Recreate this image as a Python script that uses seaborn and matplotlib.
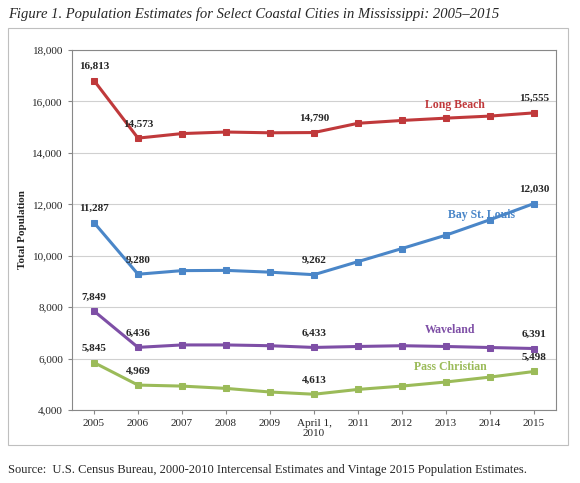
import pandas as pd
import seaborn as sns
import matplotlib.pyplot as plt
from matplotlib.patches import Rectangle

years = ['2005', '2006', '2007', '2008', '2009', 'April 1,\n2010', '2011', '2012', '2013', '2014', '2015']
long_beach = [16813, 14573, 14750, 14810, 14780, 14790, 15150, 15260, 15350, 15430, 15555]
bay_st_louis = [11287, 9280, 9420, 9430, 9360, 9262, 9770, 10280, 10800, 11400, 12030]
waveland = [7849, 6436, 6530, 6530, 6500, 6433, 6470, 6500, 6470, 6430, 6391]
pass_christian = [5845, 4969, 4930, 4840, 4700, 4613, 4800, 4930, 5090, 5280, 5498]

series = {
    'Long Beach': (long_beach, '#C0393B'),
    'Bay St. Louis': (bay_st_louis, '#4A86C8'),
    'Waveland': (waveland, '#7E4FA6'),
    'Pass Christian': (pass_christian, '#9BBB59'),
}
name_pos = {'Long Beach': (8.2, 15870), 'Bay St. Louis': (8.8, 11600),
            'Waveland': (8.1, 7110), 'Pass Christian': (8.1, 5670)}

sns.set_style('white')
plt.rcParams['font.family'] = ['Liberation Serif', 'DejaVu Serif']

fig = plt.figure(figsize=(5.8, 4.83), dpi=100)
ax = fig.add_axes([72 / 580, 1 - 410 / 483, 484 / 580, 360 / 483])
fig.patches.append(Rectangle((8 / 580, 1 - 445 / 483), 560 / 580, 417 / 483,
                             transform=fig.transFigure, fill=False, ec='#BFBFBF', lw=0.8))

x = list(range(len(years)))
for name, (vals, col) in series.items():
    df = pd.DataFrame({'x': x, 'y': vals})
    sns.lineplot(data=df, x='x', y='y', ax=ax, color=col, lw=2.2,
                 marker='s', markersize=5, markeredgecolor=col)
    for i in (0, 1, 5, 10):
        ax.annotate(f'{vals[i]:,}', (i, vals[i]), xytext=(0, 7), textcoords='offset points',
                    ha='center', va='bottom', fontsize=8, fontweight='bold')
    px, py = name_pos[name]
    ax.text(px, py, name, color=col, ha='center', va='center',
            fontsize=8.5, fontweight='bold')

ax.set_ylim(4000, 18000)
ax.set_yticks(range(4000, 18001, 2000))
ax.set_yticklabels([f'{v:,}' for v in range(4000, 18001, 2000)], fontsize=8)
ax.set_xlim(-0.5, 10.5)
ax.set_xticks(x)
ax.set_xticklabels(years, fontsize=8)
ax.set_xlabel('')
ax.set_ylabel('Total Population', fontsize=8, fontweight='bold')
ax.yaxis.grid(True, color='#D0D0D0', lw=0.8)
for s in ax.spines.values():
    s.set_color('#888888')
    s.set_linewidth(0.8)
ax.tick_params(axis='both', length=3, color='#888888', direction='out', bottom=True, left=True)

fig.text(8 / 580, 1 - 14 / 483, 'Figure 1. Population Estimates for Select Coastal Cities in Mississippi: 2005\u20132015',
         fontsize=10.5, style='italic', va='center')
fig.text(8 / 580, 1 - 470 / 483, 'Source:  U.S. Census Bureau, 2000-2010 Intercensal Estimates and Vintage 2015 Population Estimates.',
         fontsize=9, va='center')

fig.savefig('out.png', dpi=100)
